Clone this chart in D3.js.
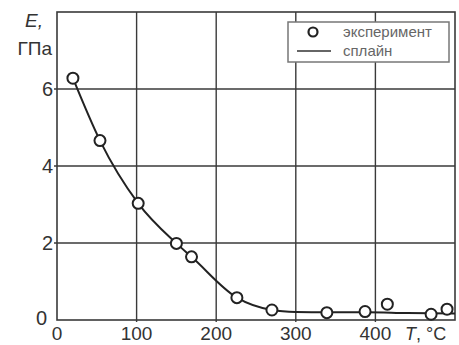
<!DOCTYPE html>
<html>
  <head>
    <meta charset="utf-8">
    <title>E(T)</title>
    <style media="screen">
    body{margin: 0; background: #fff}
    text {font-family: "Liberation Sans", Arial, sans-serif}
    </style>
  </head>
  <body>
    <script src="https://cdn.jsdelivr.net/npm/d3@7"></script>
    <script type="text/javascript">
      // experiment points (T, °C / E, GPa)
      var tempExp = [20, 54, 102, 150, 169, 226, 270, 339, 387, 415, 470, 490]
      var modExp = [6.28, 4.66, 3.03, 1.99, 1.64, 0.58, 0.26, 0.19, 0.22, 0.41, 0.15, 0.28]

      // spline curve
      var tSpline = [20, 54, 102, 150, 169, 226, 270, 300, 340, 390, 440, 500]
      var eSpline = [6.28, 4.66, 3.03, 1.99, 1.64, 0.58, 0.26, 0.21, 0.2, 0.2, 0.18, 0.17]

      var xTicks = [0, 100, 200, 300, 400]
      var yTicks = [2, 4, 6]
      var legendLabels = ['эксперимент', 'сплайн']

      var w = 459, h = 345

      var x = d3.scaleLinear().domain([0, 500]).range([57, 455])
      var y = d3.scaleLinear().domain([0, 8]).range([320, 12])

      var svg = d3.select('body').append('svg')
        .attr('width', w)
        .attr('height', h)

      var ink = '#3a3a3a'

      // grid
      svg.selectAll('line.vg').data(xTicks.slice(1))
        .enter().append('line')
          .attr('x1', function(d){ return x(d) }).attr('x2', function(d){ return x(d) })
          .attr('y1', y(8)).attr('y2', y(0) + 2)
          .attr('stroke', ink).attr('stroke-width', 1.4)

      svg.selectAll('line.hg').data(yTicks)
        .enter().append('line')
          .attr('x1', x(0) - 3).attr('x2', x(500))
          .attr('y1', function(d){ return y(d) }).attr('y2', function(d){ return y(d) })
          .attr('stroke', ink).attr('stroke-width', 1.4)

      // frame
      svg.append('rect')
        .attr('x', x(0)).attr('y', y(8))
        .attr('width', x(500) - x(0)).attr('height', y(0) - y(8))
        .attr('fill', 'none').attr('stroke', ink).attr('stroke-width', 1.6)

      // tick labels
      svg.selectAll('text.xt').data(xTicks)
        .enter().append('text')
          .attr('x', function(d){ return x(d) })
          .attr('y', 340)
          .attr('text-anchor', 'middle')
          .attr('font-size', 19)
          .attr('fill', '#333')
          .text(function(d){ return d })

      svg.selectAll('text.yt').data(yTicks)
        .enter().append('text')
          .attr('x', 53)
          .attr('y', function(d){ return y(d) + 7 })
          .attr('text-anchor', 'end')
          .attr('font-size', 20)
          .attr('fill', '#333')
          .text(function(d){ return d })

      svg.append('text')
        .attr('x', 47).attr('y', y(0) + 5)
        .attr('text-anchor', 'end')
        .attr('font-size', 20)
        .attr('fill', '#333')
        .text('0')

      // axis titles
      svg.append('text')
        .attr('x', 25).attr('y', 27)
        .attr('font-size', 19).attr('font-style', 'italic')
        .attr('fill', '#333')
        .text('E,')

      svg.append('text')
        .attr('x', 52).attr('y', 55)
        .attr('text-anchor', 'end')
        .attr('font-size', 19)
        .attr('fill', '#333')
        .text('ГПа')

      var tl = svg.append('text')
        .attr('x', 405).attr('y', 340)
        .attr('font-size', 18)
        .attr('fill', '#333')
      tl.append('tspan').attr('font-style', 'italic').text('T')
      tl.append('tspan').text(', °C')

      // spline
      var pts = tSpline.map(function(t, i){ return [t, eSpline[i]] })
      var line = d3.line()
        .x(function(d){ return x(d[0]) })
        .y(function(d){ return y(d[1]) })
        .curve(d3.curveMonotoneX)

      svg.append('path')
        .attr('d', line(pts))
        .attr('fill', 'none')
        .attr('stroke', '#222')
        .attr('stroke-width', 2)

      // experiment markers
      svg.selectAll('circle.pt').data(tempExp)
        .enter().append('circle')
          .attr('cx', function(d){ return x(d) })
          .attr('cy', function(d, i){ return y(modExp[i]) })
          .attr('r', 5.5)
          .attr('fill', '#fff')
          .attr('stroke', '#222')
          .attr('stroke-width', 2)

      // legend
      var lg = svg.append('g')
      lg.append('rect')
        .attr('x', 288).attr('y', 22)
        .attr('width', 161).attr('height', 40)
        .attr('fill', '#fff')
        .attr('stroke', '#777').attr('stroke-width', 1.5)

      lg.append('circle')
        .attr('cx', 313).attr('cy', 32).attr('r', 4.5)
        .attr('fill', '#fff').attr('stroke', '#222').attr('stroke-width', 2.2)

      lg.append('line')
        .attr('x1', 297).attr('x2', 331)
        .attr('y1', 51).attr('y2', 51)
        .attr('stroke', '#333').attr('stroke-width', 1.6)

      lg.selectAll('text').data(legendLabels)
        .enter().append('text')
          .attr('x', 343)
          .attr('y', function(d, i){ return 37 + i * 19 })
          .attr('font-size', 15)
          .attr('fill', '#666')
          .text(function(d){ return d })
    </script>
  </body>
</html>
